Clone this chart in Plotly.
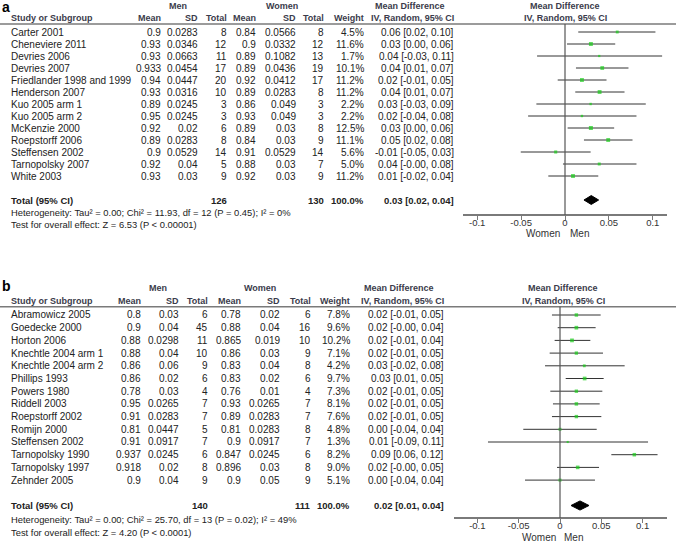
import plotly.graph_objects as go

# ---------------- Panel a data ----------------
studies_a = ["Carter 2001", "Cheneviere 2011", "Devries 2006", "Devries 2007",
             "Friedlander 1998 and 1999", "Henderson 2007", "Kuo 2005 arm 1",
             "Kuo 2005 arm 2", "McKenzie 2000", "Roepstorff 2006", "Steffensen 2002",
             "Tarnopolsky 2007", "White 2003"]
men_mean_a = [0.9, 0.93, 0.93, 0.933, 0.94, 0.93, 0.89, 0.95, 0.92, 0.89, 0.9, 0.92, 0.93]
men_sd_a = [0.0283, 0.0346, 0.0663, 0.0454, 0.0447, 0.0316, 0.0245, 0.0245, 0.02, 0.0283, 0.0529, 0.04, 0.03]
men_n_a = [8, 12, 11, 17, 20, 10, 3, 3, 6, 8, 14, 5, 9]
women_mean_a = [0.84, 0.9, 0.89, 0.89, 0.92, 0.89, 0.86, 0.93, 0.89, 0.84, 0.91, 0.88, 0.92]
women_sd_a = [0.0566, 0.0332, 0.1082, 0.0436, 0.0412, 0.0283, 0.049, 0.049, 0.03, 0.03, 0.0529, 0.03, 0.03]
women_n_a = [8, 12, 13, 19, 17, 8, 3, 3, 8, 9, 14, 7, 9]
weight_a = [4.5, 11.6, 1.7, 10.1, 11.2, 11.2, 2.2, 2.2, 12.5, 11.1, 5.6, 5.0, 11.2]
ci_text_a = ["0.06 [0.02, 0.10]", "0.03 [0.00, 0.06]", "0.04 [-0.03, 0.11]", "0.04 [0.01, 0.07]",
             "0.02 [-0.01, 0.05]", "0.04 [0.01, 0.07]", "0.03 [-0.03, 0.09]", "0.02 [-0.04, 0.08]",
             "0.03 [0.00, 0.06]", "0.05 [0.02, 0.08]", "-0.01 [-0.05, 0.03]", "0.04 [-0.00, 0.08]",
             "0.01 [-0.02, 0.04]"]
md_a = [0.0595, 0.0295, 0.039, 0.0424, 0.0193, 0.0394, 0.0292, 0.0193, 0.0295, 0.0492, -0.0106, 0.039, 0.0091]
lo_a = [0.0151, 0.0023, -0.0318, 0.0125, -0.0083, 0.0117, -0.0326, -0.042, 0.003, 0.0216, -0.0504, -0.0023, -0.019]
hi_a = [0.103, 0.0572, 0.1106, 0.0723, 0.0473, 0.0678, 0.092, 0.0814, 0.056, 0.0769, 0.0292, 0.0814, 0.0379]
total_a = {"men": 126, "women": 130, "weight": "100.0%", "ci": "0.03 [0.02, 0.04]"}
diamond_a = [0.0216, 0.0299, 0.0383]
het_a = "Heterogeneity: Tau² = 0.00; Chi² = 11.93, df = 12 (P = 0.45); I² = 0%"
test_a = "Test for overall effect: Z = 6.53 (P < 0.00001)"

# ---------------- Panel b data ----------------
studies_b = ["Abramowicz 2005", "Goedecke 2000", "Horton 2006", "Knechtle 2004 arm 1",
             "Knechtle 2004 arm 2", "Phillips 1993", "Powers 1980", "Riddell 2003",
             "Roepstorff 2002", "Romijn 2000", "Steffensen 2002", "Tarnopolsky 1990",
             "Tarnopolsky 1997", "Zehnder 2005"]
men_mean_b = [0.8, 0.9, 0.88, 0.88, 0.86, 0.86, 0.78, 0.95, 0.91, 0.81, 0.91, 0.937, 0.918, 0.9]
men_sd_b = [0.03, 0.04, 0.0298, 0.04, 0.06, 0.02, 0.03, 0.0265, 0.0283, 0.0447, 0.0917, 0.0245, 0.02, 0.04]
men_n_b = [6, 45, 11, 10, 9, 6, 4, 7, 7, 5, 7, 6, 8, 9]
women_mean_b = [0.78, 0.88, 0.865, 0.86, 0.83, 0.83, 0.76, 0.93, 0.89, 0.81, 0.9, 0.847, 0.896, 0.9]
women_sd_b = [0.02, 0.04, 0.019, 0.03, 0.04, 0.02, 0.01, 0.0265, 0.0283, 0.0283, 0.0917, 0.0245, 0.03, 0.05]
women_n_b = [6, 16, 10, 9, 8, 6, 4, 7, 7, 8, 7, 6, 8, 9]
weight_b = [7.8, 9.6, 10.2, 7.1, 4.2, 9.7, 7.3, 8.1, 7.6, 4.8, 1.3, 8.2, 9.0, 5.1]
ci_text_b = ["0.02 [-0.01, 0.05]", "0.02 [-0.00, 0.04]", "0.02 [-0.01, 0.04]", "0.02 [-0.01, 0.05]",
             "0.03 [-0.02, 0.08]", "0.03 [0.01, 0.05]", "0.02 [-0.01, 0.05]", "0.02 [-0.01, 0.05]",
             "0.02 [-0.01, 0.05]", "0.00 [-0.04, 0.04]", "0.01 [-0.09, 0.11]", "0.09 [0.06, 0.12]",
             "0.02 [-0.00, 0.05]", "0.00 [-0.04, 0.04]"]
md_b = [0.0198, 0.0198, 0.0145, 0.0198, 0.0294, 0.0298, 0.0198, 0.0198, 0.0198, 0.0, 0.0093, 0.0899, 0.0214, 0.0]
lo_b = [-0.0097, -0.0028, -0.0065, -0.0125, -0.0181, 0.0069, -0.0117, -0.0085, -0.0097, -0.0444, -0.0871, 0.0621, -0.0036, -0.0423]
hi_b = [0.0492, 0.0431, 0.0367, 0.052, 0.0782, 0.0528, 0.0512, 0.048, 0.05, 0.0444, 0.1065, 0.118, 0.0472, 0.0423]
total_b = {"men": 140, "women": 111, "weight": "100.0%", "ci": "0.02 [0.01, 0.04]"}
diamond_b = [0.0133, 0.0242, 0.0351]
het_b = "Heterogeneity: Tau² = 0.00; Chi² = 25.70, df = 13 (P = 0.02); I² = 49%"
test_b = "Test for overall effect: Z = 4.20 (P < 0.0001)"

tick_vals = [-0.1, -0.05, 0, 0.05, 0.1]
tick_text = ["-0.1", "-0.05", "0", "0.05", "0.1"]

# ---------------- styling ----------------
W, H = 676, 542
FONT = "Arial, Liberation Sans, sans-serif"
TXT = "#222222"
HDR = "#3b3b4b"
GREEN = "#18cc18"
LINE = "#333333"
RULE = "#7a7a7a"
HDR_SIZE = 9
TOT_SIZE = 9.5
BODY_SIZE = 10

fig = go.Figure()
annotations = []
shapes = []


def px(x):
    return x / W


def ann(text, x, y, yref, anchor="right", bold=False, color=TXT, size=BODY_SIZE, xref="paper"):
    annotations.append(dict(
        text=("<b>%s</b>" % text) if bold else text, x=x, y=y, xref=xref, yref=yref,
        xanchor=anchor, yanchor="middle", showarrow=False, borderpad=0,
        font=dict(family=FONT, size=size, color=color)))


def panel(letter, yname, xname, cols, hdr_rows, studies, mm, msd, mn, wm, wsd, wn, wt, citxt,
          md, lo, hi, total, diamond, het, test, total_row, het_rows, wm_row, rule_y, axis_y,
          diam_h, forest_center, men_c, women_c, md_hdr_c, letter_row):
    yref = yname
    r1, r2 = hdr_rows
    ann(letter, px(1), letter_row, yref, anchor="left", bold=True, color="#000000", size=14)
    ann("Men", px(men_c), r1, yref, anchor="center", bold=True, color=HDR, size=HDR_SIZE)
    ann("Women", px(women_c), r1, yref, anchor="center", bold=True, color=HDR, size=HDR_SIZE)
    ann("Mean Difference", px(md_hdr_c), r1, yref, anchor="center", bold=True, color=HDR, size=HDR_SIZE)
    ann("Mean Difference", px(forest_center), r1, yref, anchor="center", bold=True, color=HDR, size=HDR_SIZE)
    ann("Study or Subgroup", px(10), r2, yref, anchor="left", bold=True, color=HDR, size=HDR_SIZE)
    hdrs = ["Mean", "SD", "Total", "Mean", "SD", "Total", "Weight", "IV, Random, 95% CI"]
    for h, c in zip(hdrs, cols):
        ann(h, px(c), r2, yref, bold=True, color=HDR, size=HDR_SIZE)
    ann("IV, Random, 95% CI", px(forest_center), r2, yref, anchor="center", bold=True, color=HDR,
        size=HDR_SIZE)

    for i, s in enumerate(studies):
        ann(s, px(10), i, yref, anchor="left")
        vals = [str(mm[i]), str(msd[i]), str(mn[i]), str(wm[i]), str(wsd[i]), str(wn[i]),
                "%.1f%%" % wt[i], citxt[i]]
        for v, c in zip(vals, cols):
            ann(v, px(c), i, yref)

    ann("Total (95% CI)", px(10), total_row, yref, anchor="left", bold=True, size=TOT_SIZE)
    ann(str(total["men"]), px(cols[2]), total_row, yref, bold=True, size=TOT_SIZE)
    ann(str(total["women"]), px(cols[5]), total_row, yref, bold=True, size=TOT_SIZE)
    ann(total["weight"], px(cols[6]), total_row, yref, bold=True, size=TOT_SIZE)
    ann(total["ci"], px(cols[7]), total_row, yref, bold=True, size=TOT_SIZE)
    ann(het, px(10), het_rows[0], yref, anchor="left", size=9.4)
    ann(test, px(10), het_rows[1], yref, anchor="left", size=9.4)
    ann("Women", -0.004, wm_row, yref, anchor="right", color="#333333", xref=xname)
    ann("Men", 0.004, wm_row, yref, anchor="left", color="#333333", xref=xname)

    # header rule
    shapes.append(dict(type="line", xref="paper", yref=yref, x0=0, x1=1, y0=rule_y, y1=rule_y,
                       line=dict(color=RULE, width=1.5)))
    # line of no effect
    shapes.append(dict(type="line", xref=xname, yref=yref, x0=0, x1=0, y0=rule_y, y1=axis_y,
                       line=dict(color="#555555", width=1.2)))

    # CI whiskers
    xs, ys = [], []
    for i in range(len(studies)):
        xs += [lo[i], hi[i], None]
        ys += [i, i, None]
    fig.add_trace(go.Scatter(x=xs, y=ys, mode="lines", line=dict(color=LINE, width=1),
                             xaxis=xname, yaxis=yname, hoverinfo="skip", showlegend=False))
    # point estimates
    fig.add_trace(go.Scatter(x=md, y=list(range(len(studies))), mode="markers",
                             marker=dict(symbol="square", color=GREEN,
                                         size=[1.2 + 0.8 * (w ** 0.5) for w in wt], line=dict(width=0)),
                             xaxis=xname, yaxis=yname, showlegend=False))
    # pooled diamond
    fig.add_trace(go.Scatter(x=[diamond[0], diamond[1], diamond[2], diamond[1], diamond[0]],
                             y=[total_row, total_row - diam_h, total_row, total_row + diam_h, total_row],
                             mode="lines", fill="toself", fillcolor="#000000",
                             line=dict(color="#000000", width=1),
                             xaxis=xname, yaxis=yname, showlegend=False))


# Panel a: row i centred at pixel 32 + 12*i ; panel b: 315 + 12.7*i
panel("a", "y", "x",
      cols=[162, 199, 228, 257, 297, 325, 365, 455], hdr_rows=(-2.17, -1.17),
      studies=studies_a, mm=men_mean_a, msd=men_sd_a, mn=men_n_a, wm=women_mean_a,
      wsd=women_sd_a, wn=women_n_a, wt=weight_a, citxt=ci_text_a, md=md_a, lo=lo_a, hi=hi_a,
      total=total_a, diamond=diamond_a, het=het_a, test=test_a, total_row=14,
      het_rows=(15, 16), wm_row=16.8, rule_y=-0.667, axis_y=15.25, diam_h=0.37,
      forest_center=565, men_c=178, women_c=282, md_hdr_c=410, letter_row=-2.05)

panel("b", "y2", "x2",
      cols=[142, 180, 209, 242, 281, 312, 351, 445], hdr_rows=(-2.10, -1.13),
      studies=studies_b, mm=men_mean_b, msd=men_sd_b, mn=men_n_b, wm=women_mean_b,
      wsd=women_sd_b, wn=women_n_b, wt=weight_b, citxt=ci_text_b, md=md_b, lo=lo_b, hi=hi_b,
      total=total_b, diamond=diamond_b, het=het_b, test=test_b, total_row=15,
      het_rows=(16.14, 17.09), wm_row=17.48, rule_y=-0.654, axis_y=15.98, diam_h=0.36,
      forest_center=563, men_c=158, women_c=260, md_hdr_c=399, letter_row=-2.28)

axis_common = dict(tickmode="array", tickvals=tick_vals, ticktext=tick_text, showgrid=False,
                   zeroline=False, showline=True, linecolor=RULE, linewidth=1.5, ticks="outside",
                   ticklen=4, tickcolor=RULE, tickwidth=1.2, ticklabelstandoff=-5,
                   tickfont=dict(family=FONT, size=9.5, color="#333333"), anchor="free")

fig.update_layout(
    width=W, height=H, margin=dict(l=0, r=0, t=0, b=0),
    paper_bgcolor="white", plot_bgcolor="rgba(0,0,0,0)", showlegend=False,
    xaxis=dict(domain=[463 / W, 667 / W], range=[-102 / 878, 102 / 878],
               position=1 - 215 / H, **axis_common),
    xaxis2=dict(domain=[454 / W, 667 / W], range=[-106 / 826.7, 107 / 826.7],
                position=1 - 518 / H, **axis_common),
    yaxis=dict(domain=[1 - 240 / H, 1], range=[(240 - 32) / 12, (0 - 32) / 12],
               visible=False, anchor="x"),
    yaxis2=dict(domain=[0, 1 - 265 / H], range=[(542 - 315) / 12.7, (265 - 315) / 12.7],
                visible=False, anchor="x2"),
    annotations=annotations, shapes=shapes,
)

fig.write_html("out.html", config={"displayModeBar": False},
               post_script="document.body.style.margin='0';document.body.style.overflow='hidden';")
